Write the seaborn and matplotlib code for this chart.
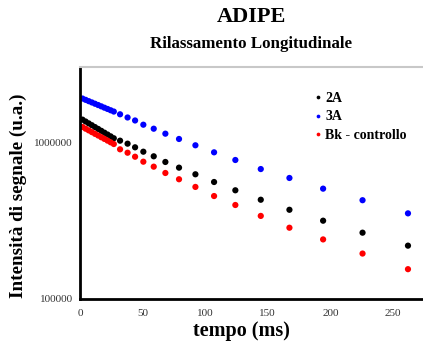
import numpy as np
import pandas as pd
import matplotlib
matplotlib.use("Agg")
import matplotlib.pyplot as plt
import seaborn as sns
from matplotlib.ticker import MultipleLocator, FixedLocator, LogLocator, NullFormatter

# ---- data ----
tempo = [2, 4.5, 7, 9.5, 12, 14.5, 17, 19.5, 22, 24.5, 27,
         32, 38, 44, 50.6, 58.9, 68.2, 79.1, 92.2, 107.1, 124.1, 144.4, 167.3, 194.2, 225.7, 262]

s_2A = [1.395e6, 1.357e6, 1.320e6, 1.285e6, 1.250e6, 1.217e6, 1.184e6, 1.152e6, 1.121e6,
        1.091e6, 1.061e6,
        1.024e6, 0.980e6, 0.929e6, 0.871e6, 0.814e6, 0.749e6, 0.689e6, 0.625e6, 0.558e6,
        0.494e6, 0.430e6, 0.371e6, 0.316e6, 0.265e6, 0.219e6]

s_3A = [1.902e6, 1.866e6, 1.830e6, 1.796e6, 1.762e6, 1.729e6, 1.696e6, 1.663e6, 1.632e6,
        1.601e6, 1.571e6,
        1.509e6, 1.440e6, 1.378e6, 1.295e6, 1.221e6, 1.135e6, 1.050e6, 0.957e6, 0.863e6,
        0.771e6, 0.675e6, 0.592e6, 0.506e6, 0.427e6, 0.352e6]

s_bk = [1.252e6, 1.221e6, 1.191e6, 1.161e6, 1.132e6, 1.105e6, 1.077e6, 1.051e6, 1.025e6,
        0.9995e6, 0.975e6,
        0.902e6, 0.858e6, 0.809e6, 0.752e6, 0.699e6, 0.637e6, 0.581e6, 0.519e6, 0.454e6,
        0.398e6, 0.339e6, 0.285e6, 0.240e6, 0.195e6, 0.155e6]

series_names = ["2A", "3A", "Bk - controllo"]
series_colors = ["#000000", "#0000ff", "#ff0000"]

title = "ADIPE"
subtitle = "Rilassamento Longitudinale"
xlabel = "tempo (ms)"
ylabel = "Intensità di segnale (u.a.)"
xticks = [0, 50, 100, 150, 200, 250]
yticks = [100000, 1000000]
ytick_labels = ["100000", "1000000"]

# ---- build table ----
rows = []
for name, vals in zip(series_names, [s_2A, s_3A, s_bk]):
    for t, v in zip(tempo, vals):
        rows.append({"tempo": t, "valore": v, "serie": name})
df = pd.DataFrame(rows)

sns.set_style("white")
serif = ["Liberation Serif", "DejaVu Serif"]
plt.rcParams["font.family"] = serif
plt.rcParams["text.color"] = "black"

W, H = 423, 347
fig = plt.figure(figsize=(W / 100, H / 100), dpi=100)
ax = fig.add_axes([80 / W, 48 / H, 343 / W, 232 / H])

sns.scatterplot(data=df, x="tempo", y="valore", hue="serie",
                palette=dict(zip(series_names, series_colors)),
                hue_order=series_names, s=20, linewidth=0, ax=ax, legend=True)

ax.set_yscale("log")
ax.set_xlim(0, 274)
ax.set_ylim(1e5, 10 ** 6.4805)

ax.xaxis.set_major_locator(FixedLocator(xticks))
ax.xaxis.set_minor_locator(MultipleLocator(12.5))
ax.yaxis.set_major_locator(FixedLocator(yticks))
ax.set_yticklabels(ytick_labels)
ax.yaxis.set_minor_locator(LogLocator(base=10, subs=np.arange(2, 10)))
ax.yaxis.set_minor_formatter(NullFormatter())

ax.tick_params(axis="both", which="major", direction="in", length=9, width=1.3,
               color="black", labelsize=8, labelcolor="#333333")
ax.tick_params(axis="both", which="minor", direction="in", length=5, width=1.1, color="black")
ax.tick_params(axis="x", pad=7)
ax.tick_params(axis="y", pad=5)

for sp in ["left", "bottom"]:
    ax.spines[sp].set_color("black")
    ax.spines[sp].set_linewidth(2)
ax.spines["top"].set_color("#c8c8c8")
ax.spines["top"].set_linewidth(1.5)
ax.spines["right"].set_visible(False)

ax.set_xlabel("")
ax.set_ylabel("")
fig.text(241 / W, 1 - 331 / H, xlabel, ha="center", va="center",
         fontsize=14.5, fontweight="bold", color="black")
fig.text(18 / W, 1 - 196 / H, ylabel, ha="center", va="center", rotation=90,
         fontsize=13.8, fontweight="bold", color="black")

fig.text((80 + 423) / 2 / W, 1 - 17 / H, title, ha="center", va="center",
         fontsize=16, fontweight="bold", color="black")
fig.text((80 + 423) / 2 / W, 1 - 44 / H, subtitle, ha="center", va="center",
         fontsize=12.2, fontweight="bold", color="black")

leg = ax.legend(loc="upper left", bbox_to_anchor=((307 - 80) / 343, 1 - (86 - 67) / 232),
                frameon=False, markerscale=0.6, handletextpad=0.1, handlelength=0.8,
                labelspacing=0.42, borderaxespad=0, prop={"weight": "bold", "size": 10})
for txt in leg.get_texts():
    txt.set_color("black")
ax.grid(False)

fig.savefig("out.png", dpi=100)
